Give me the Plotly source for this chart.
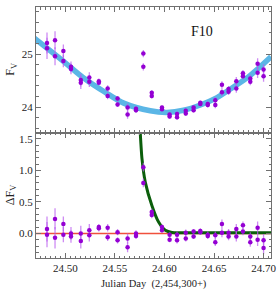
import plotly.graph_objects as go

# ---- data (Julian Day - 2,454,300) ----
t_pairs = [24.4815, 24.4896, 24.4980, 24.5057, 24.5156, 24.5242, 24.5338, 24.5427,
           24.5527, 24.5628, 24.5713, 24.5787, 24.5872, 24.5975, 24.6052, 24.6127,
           24.6215, 24.6294, 24.6362, 24.6437, 24.6513, 24.6580, 24.6647, 24.6725,
           24.6792, 24.6866, 24.6940, 24.7000]
flux_a = [25.21, 25.26, 25.06, 24.76, 24.51, 24.56, 24.49, 24.35, 24.16, 23.99, 23.94,
          25.01, 24.27, 23.96, 23.82, 23.87, 23.88, 23.99, 24.08, 24.04, 24.13, 24.42,
          24.29, 24.49, 24.64, 24.54, 24.82, 24.71]
flux_b = [25.11, 24.96, 24.87, 24.72, 24.46, 24.48, 24.46, 24.21, 24.05, 23.86, 23.97,
          24.76, 24.21, 23.99, 23.86, 23.81, 23.93, 23.94, 24.06, 24.06, 24.04, 24.28,
          24.34, 24.35, 24.58, 24.48, 24.65, 24.58]
resid_a = [0.07, 0.23, 0.15, 0.00, 0.00, 0.05, 0.10, 0.09, 0.02, -0.08, -0.04,
           1.05, 0.34, 0.10, -0.02, -0.02, 0.01, 0.03, 0.04, -0.02, -0.03, 0.15,
           -0.05, 0.07, 0.13, -0.05, 0.09, -0.11]
resid_b = [-0.02, -0.07, -0.02, -0.05, -0.12, -0.03, 0.08, -0.06, -0.11, -0.22, 0.00,
           0.80, 0.29, 0.05, -0.10, -0.11, -0.08, -0.05, 0.02, -0.04, -0.14, 0.01,
           0.01, -0.05, 0.03, -0.14, -0.10, -0.23]
err_pairs = [0.20, 0.17, 0.12, 0.10, 0.12, 0.10, 0.05, 0.06, 0.05, 0.08, 0.05,
             0.07, 0.05, 0.04, 0.04, 0.05, 0.05, 0.04, 0.04, 0.05, 0.06, 0.07,
             0.06, 0.08, 0.06, 0.07, 0.10, 0.10]

# quiescent model curve (blue)
model_t = [24.4687, 24.4990, 24.5192, 24.5393, 24.5595, 24.5857, 24.6026, 24.6193,
           24.6362, 24.6530, 24.6697, 24.6866, 24.7075]
model_f = [25.30, 24.85, 24.54, 24.29, 24.07, 23.93, 23.90, 23.94, 24.04, 24.18,
           24.38, 24.60, 24.95]

# flare model curve (green)
flare_t = [24.5754, 24.5773, 24.5807, 24.5874, 24.5941, 24.6009, 24.6076, 24.6210, 24.7075]
flare_f = [1.65, 1.19, 0.81, 0.44, 0.18, 0.05, 0.015, 0.012, 0.012]

x_range = [24.4704, 24.7075]

t_all = t_pairs + t_pairs
flux_all = flux_a + flux_b
resid_all = resid_a + resid_b
err_all = err_pairs + err_pairs

SERIF = "Liberation Serif, Times New Roman, serif"
PURPLE = "#9400D3"
ERRC = "rgba(185,90,240,0.7)"
FRAME = "#707070"

fig = go.Figure()

# top panel
fig.add_trace(go.Scatter(x=model_t, y=model_f, mode="lines", xaxis="x2", yaxis="y2",
                         line=dict(color="#5BB6E6", width=5.5, shape="spline", smoothing=1.0),
                         hoverinfo="skip", showlegend=False))
fig.add_trace(go.Scatter(x=t_all, y=flux_all, mode="markers", xaxis="x2", yaxis="y2",
                         marker=dict(color=PURPLE, size=4.5),
                         error_y=dict(type="data", array=err_all, color=ERRC, thickness=1.3, width=0),
                         showlegend=False))

# bottom panel
fig.add_trace(go.Scatter(x=x_range, y=[0, 0], mode="lines", xaxis="x", yaxis="y",
                         line=dict(color="#F0503C", width=1.5), hoverinfo="skip", showlegend=False))
fig.add_trace(go.Scatter(x=flare_t, y=flare_f, mode="lines", xaxis="x", yaxis="y",
                         line=dict(color="#0B5E0B", width=3, shape="spline", smoothing=0.6),
                         hoverinfo="skip", showlegend=False))
fig.add_trace(go.Scatter(x=t_all, y=resid_all, mode="markers", xaxis="x", yaxis="y",
                         marker=dict(color=PURPLE, size=4.5),
                         error_y=dict(type="data", array=err_all, color=ERRC, thickness=1.3, width=0),
                         showlegend=False))

common_x = dict(range=x_range, dtick=0.05, tick0=24.5, ticks="inside", ticklen=5, tickwidth=1,
                tickcolor=FRAME, showline=True, linecolor=FRAME, linewidth=1, mirror="allticks",
                showgrid=False, zeroline=False, automargin=False,
                minor=dict(dtick=0.005, ticks="inside", ticklen=2.5, tickcolor=FRAME, showgrid=False))
common_y = dict(ticks="inside", ticklen=5, tickwidth=1, tickcolor=FRAME, showline=True,
                linecolor=FRAME, linewidth=1, mirror="allticks", showgrid=False, zeroline=False,
                automargin=False)

fig.update_layout(
    width=278, height=294,
    margin=dict(l=36, r=7, t=7, b=36),
    paper_bgcolor="white", plot_bgcolor="white",
    font=dict(family=SERIF, size=11, color="#222"),
    xaxis=dict(**common_x, domain=[0, 1], anchor="y", tickformat=".2f"),
    xaxis2=dict(**common_x, domain=[0, 1], anchor="y2", matches="x", showticklabels=False),
    yaxis=dict(**common_y, domain=[0, 0.5], range=[-0.39, 1.60], dtick=0.5, tick0=0,
               tickformat=".1f",
               minor=dict(dtick=0.1, ticks="inside", ticklen=2.5, tickcolor=FRAME, showgrid=False)),
    yaxis2=dict(**common_y, domain=[0.5, 1], range=[23.52, 25.89], dtick=1, tick0=24,
                minor=dict(dtick=0.2, ticks="inside", ticklen=2.5, tickcolor=FRAME, showgrid=False)),
    annotations=[
        dict(text="F10", x=0.761, y=0.94, xref="paper", yref="paper",
             showarrow=False, font=dict(family=SERIF, size=14, color="#111")),
        dict(text="Julian Day  (2,454,300+)", x=0.5, y=-0.104, xref="paper", yref="paper",
             xanchor="center", yanchor="middle", showarrow=False,
             font=dict(family=SERIF, size=10.5, color="#222")),
        dict(text="F<sub>V</sub>", x=0, y=0.75, xref="paper", yref="paper", xshift=-25,
             xanchor="center", yanchor="middle", textangle=-90, showarrow=False,
             font=dict(family=SERIF, size=12, color="#222")),
        dict(text="ΔF<sub>V</sub>", x=0, y=0.25, xref="paper", yref="paper", xshift=-25,
             xanchor="center", yanchor="middle", textangle=-90, showarrow=False,
             font=dict(family=SERIF, size=12, color="#222")),
    ],
)

fig.write_html("out.html", config={"displayModeBar": False},
               post_script="document.body.style.margin='0';document.body.style.padding='0';")
